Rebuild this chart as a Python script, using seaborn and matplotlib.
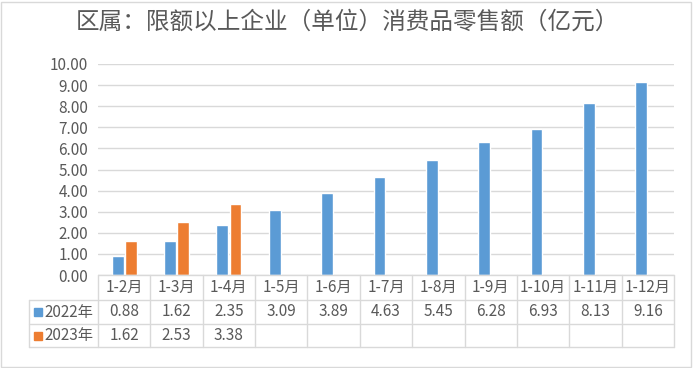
import matplotlib.pyplot as plt
import pandas as pd
import seaborn as sns
from matplotlib.patches import Rectangle
from matplotlib.lines import Line2D

# data
periods = ["1-2月", "1-3月", "1-4月", "1-5月", "1-6月", "1-7月", "1-8月", "1-9月", "1-10月", "1-11月", "1-12月"]
sales_2022 = [0.88, 1.62, 2.35, 3.09, 3.89, 4.63, 5.45, 6.28, 6.93, 8.13, 9.16]
sales_2023 = [1.62, 2.53, 3.38]
series_names = ["2022年", "2023年"]
y_ticks = [0, 1, 2, 3, 4, 5, 6, 7, 8, 9, 10]

colors = ["#5B9BD5", "#ED7D31"]
grey_txt = "#595959"
grid_c = "#D9D9D9"

rows = []
for i, p in enumerate(periods):
    rows.append({"period": p, "year": series_names[0], "value": sales_2022[i]})
    v = sales_2023[i] if i < len(sales_2023) else float("nan")
    rows.append({"period": p, "year": series_names[1], "value": v})
df = pd.DataFrame(rows)

sns.set_style("white")
plt.rcParams["font.family"] = ["Noto Sans CJK SC", "DejaVu Sans"]

W, H = 694, 368
fig = plt.figure(figsize=(W / 100, H / 100), dpi=100)
ax_l, ax_r, ax_t, ax_b = 98, 674, 64, 275
ax = fig.add_axes([ax_l / W, 1 - ax_b / H, (ax_r - ax_l) / W, (ax_b - ax_t) / H])

sns.barplot(data=df, x="period", y="value", hue="year", order=periods,
            hue_order=series_names, palette=colors, width=0.5, gap=0.1,
            ax=ax, legend=False, saturation=1)

ax.set_xlim(-0.5, len(periods) - 0.5)
ax.set_ylim(0, 10)
ax.set_yticks(y_ticks)
ax.set_yticklabels([f"{t:.2f}" for t in y_ticks], color=grey_txt, fontsize=11)
ax.set_xticks([])
ax.set_xlabel("")
ax.set_ylabel("")
ax.tick_params(axis="y", length=0, pad=7)
ax.yaxis.grid(True, color=grid_c, linewidth=1)
ax.set_axisbelow(True)
for s in ax.spines.values():
    s.set_visible(False)

# title
fig.text(0.5, 1 - 22 / H, "区属：限额以上企业（单位）消费品零售额（亿元）",
         ha="center", va="center", fontsize=17, color=grey_txt)

# data table below the axes
def fy(px):
    return 1 - px / H

def fx(px):
    return px / W

col_w = (ax_r - ax_l) / len(periods)
row_lines = [275, 300, 324, 347]
leg_l = 29
lw = 1
# horizontal lines
fig.add_artist(Line2D([fx(ax_l), fx(ax_r)], [fy(row_lines[0])] * 2, color=grid_c, lw=lw))
for y in row_lines[1:]:
    fig.add_artist(Line2D([fx(leg_l), fx(ax_r)], [fy(y)] * 2, color=grid_c, lw=lw))
# vertical lines
for j in range(len(periods) + 1):
    x = ax_l + j * col_w
    fig.add_artist(Line2D([fx(x)] * 2, [fy(row_lines[0]), fy(row_lines[-1])], color=grid_c, lw=lw))
fig.add_artist(Line2D([fx(leg_l)] * 2, [fy(row_lines[1]), fy(row_lines[-1])], color=grid_c, lw=lw))

for j, p in enumerate(periods):
    cx = ax_l + (j + 0.5) * col_w
    fig.text(fx(cx), fy((row_lines[0] + row_lines[1]) / 2), p, ha="center", va="center",
             fontsize=11, color=grey_txt)
    fig.text(fx(cx), fy((row_lines[1] + row_lines[2]) / 2), f"{sales_2022[j]:.2f}",
             ha="center", va="center", fontsize=11, color=grey_txt)
    if j < len(sales_2023):
        fig.text(fx(cx), fy((row_lines[2] + row_lines[3]) / 2), f"{sales_2023[j]:.2f}",
                 ha="center", va="center", fontsize=11, color=grey_txt)

for k, name in enumerate(series_names):
    cy = (row_lines[k + 1] + row_lines[k + 2]) / 2
    fig.add_artist(Rectangle((fx(34), fy(cy + 4)), 8 / W, 8 / H, color=colors[k],
                             transform=fig.transFigure))
    fig.text(fx(44), fy(cy), name, ha="left", va="center", fontsize=11, color=grey_txt)

# outer border
fig.add_artist(Rectangle((1 / W, 1 / H), (W - 4) / W, (H - 3) / H, fill=False,
                         edgecolor=grid_c, lw=1, transform=fig.transFigure))

fig.savefig("out.png", dpi=100)
